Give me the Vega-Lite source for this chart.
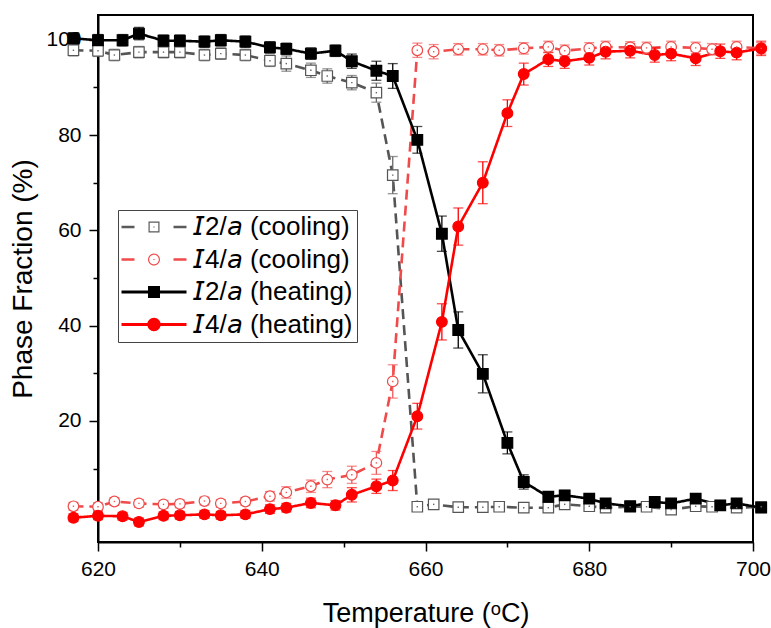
{
  "$schema": "https://vega.github.io/schema/vega-lite/v6.json",
  "width": 655,
  "height": 527,
  "autosize": {"type": "none"},
  "padding": {"left": 98, "top": 15, "right": 18, "bottom": 86},
  "background": "white",
  "config": {
    "view": {"stroke": "black", "strokeWidth": 2},
    "font": "Liberation Sans",
    "axis": {
      "grid": false,
      "labelFlush": false,
      "domainColor": "black",
      "domainWidth": 2,
      "tickColor": "black",
      "tickWidth": 1.5,
      "labelColor": "black",
      "labelFont": "Liberation Sans",
      "labelFontSize": 21,
      "titleColor": "black",
      "titleFont": "Liberation Sans",
      "titleFontSize": 27,
      "titleFontWeight": "normal"
    },
    "legend": {
      "disable": true,
      "labelFont": "Liberation Sans",
      "labelFontSize": 26,
      "labelColor": "black"
    }
  },
  "datasets": {
    "series": [
      {"series": "I2/a (cooling)"},
      {"series": "I4/a (cooling)"},
      {"series": "I2/a (heating)"},
      {"series": "I4/a (heating)"}
    ]
  },
  "data": {
    "values": [
      {"T": 617, "v": 97.8, "e": 1.2, "s": "I2/a (cooling)"},
      {"T": 620, "v": 97.7, "e": 1.2, "s": "I2/a (cooling)"},
      {"T": 622, "v": 96.8, "e": 1.2, "s": "I2/a (cooling)"},
      {"T": 625, "v": 97.4, "e": 1.2, "s": "I2/a (cooling)"},
      {"T": 628, "v": 97.4, "e": 1.2, "s": "I2/a (cooling)"},
      {"T": 630, "v": 97.4, "e": 1.2, "s": "I2/a (cooling)"},
      {"T": 633, "v": 96.8, "e": 1.2, "s": "I2/a (cooling)"},
      {"T": 635, "v": 97.1, "e": 1.2, "s": "I2/a (cooling)"},
      {"T": 638, "v": 96.8, "e": 1.2, "s": "I2/a (cooling)"},
      {"T": 641, "v": 95.6, "e": 1.2, "s": "I2/a (cooling)"},
      {"T": 643, "v": 95.0, "e": 1.6, "s": "I2/a (cooling)"},
      {"T": 646, "v": 93.6, "e": 1.5, "s": "I2/a (cooling)"},
      {"T": 648, "v": 92.4, "e": 1.5, "s": "I2/a (cooling)"},
      {"T": 651, "v": 91.0, "e": 1.5, "s": "I2/a (cooling)"},
      {"T": 654, "v": 88.9, "e": 2.0, "s": "I2/a (cooling)"},
      {"T": 656, "v": 71.6, "e": 3.9, "s": "I2/a (cooling)"},
      {"T": 659, "v": 2.0, "e": 0.7, "s": "I2/a (cooling)"},
      {"T": 661, "v": 2.5, "e": 0.7, "s": "I2/a (cooling)"},
      {"T": 664, "v": 1.9, "e": 0.7, "s": "I2/a (cooling)"},
      {"T": 667, "v": 1.9, "e": 0.7, "s": "I2/a (cooling)"},
      {"T": 669, "v": 2.0, "e": 0.7, "s": "I2/a (cooling)"},
      {"T": 672, "v": 1.8, "e": 0.7, "s": "I2/a (cooling)"},
      {"T": 675, "v": 1.8, "e": 0.7, "s": "I2/a (cooling)"},
      {"T": 677, "v": 2.5, "e": 0.7, "s": "I2/a (cooling)"},
      {"T": 680, "v": 2.1, "e": 0.7, "s": "I2/a (cooling)"},
      {"T": 682, "v": 1.8, "e": 0.7, "s": "I2/a (cooling)"},
      {"T": 685, "v": 2.0, "e": 0.7, "s": "I2/a (cooling)"},
      {"T": 687, "v": 2.0, "e": 0.7, "s": "I2/a (cooling)"},
      {"T": 690, "v": 1.4, "e": 0.7, "s": "I2/a (cooling)"},
      {"T": 693, "v": 2.1, "e": 0.7, "s": "I2/a (cooling)"},
      {"T": 695, "v": 2.0, "e": 0.7, "s": "I2/a (cooling)"},
      {"T": 698, "v": 1.8, "e": 0.7, "s": "I2/a (cooling)"},
      {"T": 701, "v": 2.0, "e": 0.7, "s": "I2/a (cooling)"},

      {"T": 617, "v": 2.1, "e": 0.8, "s": "I4/a (cooling)"},
      {"T": 620, "v": 2.0, "e": 0.8, "s": "I4/a (cooling)"},
      {"T": 622, "v": 3.1, "e": 0.8, "s": "I4/a (cooling)"},
      {"T": 625, "v": 2.7, "e": 0.8, "s": "I4/a (cooling)"},
      {"T": 628, "v": 2.5, "e": 0.8, "s": "I4/a (cooling)"},
      {"T": 630, "v": 2.6, "e": 0.8, "s": "I4/a (cooling)"},
      {"T": 633, "v": 3.2, "e": 0.8, "s": "I4/a (cooling)"},
      {"T": 635, "v": 2.7, "e": 0.8, "s": "I4/a (cooling)"},
      {"T": 638, "v": 3.1, "e": 0.8, "s": "I4/a (cooling)"},
      {"T": 641, "v": 4.2, "e": 1.0, "s": "I4/a (cooling)"},
      {"T": 643, "v": 5.0, "e": 1.2, "s": "I4/a (cooling)"},
      {"T": 646, "v": 6.3, "e": 1.3, "s": "I4/a (cooling)"},
      {"T": 648, "v": 7.7, "e": 1.7, "s": "I4/a (cooling)"},
      {"T": 651, "v": 8.7, "e": 1.8, "s": "I4/a (cooling)"},
      {"T": 654, "v": 11.2, "e": 2.4, "s": "I4/a (cooling)"},
      {"T": 656, "v": 28.3, "e": 3.5, "s": "I4/a (cooling)"},
      {"T": 659, "v": 97.8, "e": 1.5, "s": "I4/a (cooling)"},
      {"T": 661, "v": 97.5, "e": 1.5, "s": "I4/a (cooling)"},
      {"T": 664, "v": 98.0, "e": 1.2, "s": "I4/a (cooling)"},
      {"T": 667, "v": 98.0, "e": 1.2, "s": "I4/a (cooling)"},
      {"T": 669, "v": 97.8, "e": 1.2, "s": "I4/a (cooling)"},
      {"T": 672, "v": 98.2, "e": 1.2, "s": "I4/a (cooling)"},
      {"T": 675, "v": 98.5, "e": 1.2, "s": "I4/a (cooling)"},
      {"T": 677, "v": 97.7, "e": 1.2, "s": "I4/a (cooling)"},
      {"T": 680, "v": 98.2, "e": 1.2, "s": "I4/a (cooling)"},
      {"T": 682, "v": 98.5, "e": 1.2, "s": "I4/a (cooling)"},
      {"T": 685, "v": 98.4, "e": 1.2, "s": "I4/a (cooling)"},
      {"T": 687, "v": 98.3, "e": 1.2, "s": "I4/a (cooling)"},
      {"T": 690, "v": 98.5, "e": 1.2, "s": "I4/a (cooling)"},
      {"T": 693, "v": 98.3, "e": 1.2, "s": "I4/a (cooling)"},
      {"T": 695, "v": 98.0, "e": 1.2, "s": "I4/a (cooling)"},
      {"T": 698, "v": 98.5, "e": 1.2, "s": "I4/a (cooling)"},
      {"T": 701, "v": 98.2, "e": 1.2, "s": "I4/a (cooling)"},

      {"T": 617, "v": 100.3, "e": 1.2, "s": "I2/a (heating)"},
      {"T": 620, "v": 99.9, "e": 1.2, "s": "I2/a (heating)"},
      {"T": 623, "v": 99.9, "e": 1.2, "s": "I2/a (heating)"},
      {"T": 625, "v": 101.3, "e": 1.3, "s": "I2/a (heating)"},
      {"T": 628, "v": 99.8, "e": 1.2, "s": "I2/a (heating)"},
      {"T": 630, "v": 99.8, "e": 1.2, "s": "I2/a (heating)"},
      {"T": 633, "v": 99.6, "e": 1.2, "s": "I2/a (heating)"},
      {"T": 635, "v": 99.9, "e": 1.2, "s": "I2/a (heating)"},
      {"T": 638, "v": 99.6, "e": 1.2, "s": "I2/a (heating)"},
      {"T": 641, "v": 98.4, "e": 1.2, "s": "I2/a (heating)"},
      {"T": 643, "v": 98.1, "e": 1.2, "s": "I2/a (heating)"},
      {"T": 646, "v": 97.1, "e": 1.2, "s": "I2/a (heating)"},
      {"T": 649, "v": 97.7, "e": 1.2, "s": "I2/a (heating)"},
      {"T": 651, "v": 95.5, "e": 1.5, "s": "I2/a (heating)"},
      {"T": 654, "v": 93.5, "e": 2.0, "s": "I2/a (heating)"},
      {"T": 656, "v": 92.4, "e": 2.6, "s": "I2/a (heating)"},
      {"T": 659, "v": 79.0, "e": 2.8, "s": "I2/a (heating)"},
      {"T": 662, "v": 59.3, "e": 3.7, "s": "I2/a (heating)"},
      {"T": 664, "v": 39.1, "e": 3.8, "s": "I2/a (heating)"},
      {"T": 667, "v": 29.9, "e": 4.0, "s": "I2/a (heating)"},
      {"T": 670, "v": 15.4, "e": 2.3, "s": "I2/a (heating)"},
      {"T": 672, "v": 7.2, "e": 1.5, "s": "I2/a (heating)"},
      {"T": 675, "v": 4.1, "e": 1.0, "s": "I2/a (heating)"},
      {"T": 677, "v": 4.4, "e": 1.0, "s": "I2/a (heating)"},
      {"T": 680, "v": 3.7, "e": 1.0, "s": "I2/a (heating)"},
      {"T": 682, "v": 2.7, "e": 1.0, "s": "I2/a (heating)"},
      {"T": 685, "v": 2.1, "e": 1.0, "s": "I2/a (heating)"},
      {"T": 688, "v": 3.0, "e": 1.0, "s": "I2/a (heating)"},
      {"T": 690, "v": 2.7, "e": 1.0, "s": "I2/a (heating)"},
      {"T": 693, "v": 3.7, "e": 1.0, "s": "I2/a (heating)"},
      {"T": 696, "v": 2.3, "e": 1.0, "s": "I2/a (heating)"},
      {"T": 698, "v": 2.7, "e": 1.0, "s": "I2/a (heating)"},
      {"T": 701, "v": 1.8, "e": 1.0, "s": "I2/a (heating)"},

      {"T": 617, "v": -0.3, "e": 0.8, "s": "I4/a (heating)"},
      {"T": 620, "v": 0.1, "e": 0.8, "s": "I4/a (heating)"},
      {"T": 623, "v": 0.0, "e": 0.8, "s": "I4/a (heating)"},
      {"T": 625, "v": -1.2, "e": 0.8, "s": "I4/a (heating)"},
      {"T": 628, "v": 0.1, "e": 0.8, "s": "I4/a (heating)"},
      {"T": 630, "v": 0.2, "e": 0.8, "s": "I4/a (heating)"},
      {"T": 633, "v": 0.4, "e": 0.8, "s": "I4/a (heating)"},
      {"T": 635, "v": 0.2, "e": 0.8, "s": "I4/a (heating)"},
      {"T": 638, "v": 0.4, "e": 0.8, "s": "I4/a (heating)"},
      {"T": 641, "v": 1.5, "e": 0.9, "s": "I4/a (heating)"},
      {"T": 643, "v": 1.8, "e": 0.9, "s": "I4/a (heating)"},
      {"T": 646, "v": 2.8, "e": 1.0, "s": "I4/a (heating)"},
      {"T": 649, "v": 2.3, "e": 1.0, "s": "I4/a (heating)"},
      {"T": 651, "v": 4.5, "e": 1.5, "s": "I4/a (heating)"},
      {"T": 654, "v": 6.3, "e": 1.5, "s": "I4/a (heating)"},
      {"T": 656, "v": 7.5, "e": 2.1, "s": "I4/a (heating)"},
      {"T": 659, "v": 21.0, "e": 2.7, "s": "I4/a (heating)"},
      {"T": 662, "v": 40.8, "e": 3.8, "s": "I4/a (heating)"},
      {"T": 664, "v": 60.8, "e": 3.9, "s": "I4/a (heating)"},
      {"T": 667, "v": 70.0, "e": 4.4, "s": "I4/a (heating)"},
      {"T": 670, "v": 84.6, "e": 2.8, "s": "I4/a (heating)"},
      {"T": 672, "v": 92.8, "e": 2.3, "s": "I4/a (heating)"},
      {"T": 675, "v": 95.9, "e": 1.5, "s": "I4/a (heating)"},
      {"T": 677, "v": 95.5, "e": 1.5, "s": "I4/a (heating)"},
      {"T": 680, "v": 96.2, "e": 1.5, "s": "I4/a (heating)"},
      {"T": 682, "v": 97.5, "e": 1.5, "s": "I4/a (heating)"},
      {"T": 685, "v": 97.7, "e": 1.5, "s": "I4/a (heating)"},
      {"T": 688, "v": 96.8, "e": 1.5, "s": "I4/a (heating)"},
      {"T": 690, "v": 97.1, "e": 1.5, "s": "I4/a (heating)"},
      {"T": 693, "v": 96.1, "e": 1.5, "s": "I4/a (heating)"},
      {"T": 696, "v": 97.6, "e": 1.5, "s": "I4/a (heating)"},
      {"T": 698, "v": 97.3, "e": 1.5, "s": "I4/a (heating)"},
      {"T": 701, "v": 98.2, "e": 1.5, "s": "I4/a (heating)"}
    ]
  },
  "resolve": {
    "axis": {"x": "independent", "y": "independent"},
    "scale": {"shape": "independent", "fill": "independent"}
  },
  "layer": [
    {
      "mark": {"type": "line", "strokeWidth": 2.6},
      "encoding": {
        "x": {
          "field": "T", "type": "quantitative",
          "scale": {"domain": [620, 700], "nice": false, "zero": false},
          "axis": {
            "orient": "bottom",
            "values": [620, 640, 660, 680, 700],
            "tickSize": 9, "labelPadding": 7,
            "title": "Temperature (ᵒC)", "titlePadding": 21
          }
        },
        "y": {
          "field": "v", "type": "quantitative",
          "scale": {"domain": [-5.4, 105.2], "nice": false, "zero": false},
          "axis": {
            "orient": "left",
            "values": [20, 40, 60, 80, 100],
            "tickSize": 9, "labelPadding": 8,
            "title": "Phase Fraction (%)", "titlePadding": 8, "titleFontSize": 28
          }
        },
        "detail": {"field": "s"},
        "stroke": {
          "field": "s", "type": "nominal",
          "scale": {
            "domain": ["I2/a (cooling)", "I4/a (cooling)", "I2/a (heating)", "I4/a (heating)"],
            "range": ["#555555", "#f04a4a", "#000000", "#ff0000"]
          }
        },
        "strokeDash": {
          "field": "s", "type": "nominal",
          "scale": {
            "domain": ["I2/a (cooling)", "I4/a (cooling)", "I2/a (heating)", "I4/a (heating)"],
            "range": [[10, 6], [10, 6], [1, 0], [1, 0]]
          }
        }
      }
    },
    {
      "mark": {"type": "errorbar", "thickness": 1.3, "ticks": {"size": 10, "thickness": 1.3}},
      "encoding": {
        "x": {"field": "T", "type": "quantitative", "axis": null},
        "y": {"field": "v", "type": "quantitative", "axis": null},
        "yError": {"field": "e"},
        "color": {
          "field": "s", "type": "nominal",
          "scale": {
            "domain": ["I2/a (cooling)", "I4/a (cooling)", "I2/a (heating)", "I4/a (heating)"],
            "range": ["#666666", "#f25a5a", "#000000", "#ff0000"]
          }
        }
      }
    },
    {
      "mark": {"type": "point", "strokeWidth": 1.2, "opacity": 1},
      "encoding": {
        "x": {
          "field": "T", "type": "quantitative",
          "axis": {
            "orient": "bottom",
            "values": [630, 650, 670, 690],
            "tickSize": 5, "labels": false, "domain": false, "title": null
          }
        },
        "y": {
          "field": "v", "type": "quantitative",
          "axis": {
            "orient": "left",
            "values": [0, 10, 30, 50, 70, 90],
            "tickSize": 5, "labels": false, "domain": false, "title": null
          }
        },
        "stroke": {"field": "s", "type": "nominal"},
        "fill": {
          "field": "s", "type": "nominal",
          "scale": {
            "domain": ["I2/a (cooling)", "I4/a (cooling)", "I2/a (heating)", "I4/a (heating)"],
            "range": ["#ffffff", "#ffffff", "#000000", "#ff0000"]
          }
        },
        "shape": {
          "field": "s", "type": "nominal",
          "scale": {
            "domain": ["I2/a (cooling)", "I4/a (cooling)", "I2/a (heating)", "I4/a (heating)"],
            "range": ["square", "circle", "square", "circle"]
          }
        },
        "size": {
          "field": "s", "type": "nominal",
          "scale": {
            "domain": ["I2/a (cooling)", "I4/a (cooling)", "I2/a (heating)", "I4/a (heating)"],
            "range": [110, 115, 150, 140]
          }
        }
      }
    },
    {
      "transform": [{"filter": "indexof(datum.s, 'cooling') >= 0"}],
      "mark": {"type": "square", "size": 2, "opacity": 1},
      "encoding": {
        "x": {"field": "T", "type": "quantitative", "axis": null},
        "y": {"field": "v", "type": "quantitative", "axis": null},
        "color": {"field": "s", "type": "nominal"}
      }
    },
    {
      "data": {"name": "series"},
      "transform": [{"filter": "false"}],
      "mark": {"type": "point", "filled": true, "opacity": 1},
      "encoding": {
        "x": {"value": 0},
        "y": {"value": 0},
        "shape": {
          "field": "series", "type": "nominal",
          "scale": {
            "domain": ["I2/a (cooling)", "I4/a (cooling)", "I2/a (heating)", "I4/a (heating)"],
            "range": [
              "M-6.5,-0.27H-3.9V0.27H-6.5Z M3.9,-0.27H6.5V0.27H3.9Z M-1.1,-1.1H1.1V1.1H-1.1Z M-0.86,-0.86V0.86H0.86V-0.86Z M-0.12,-0.12H0.12V0.12H-0.12Z",
              "M-6.5,-0.27H-3.9V0.27H-6.5Z M3.9,-0.27H6.5V0.27H3.9Z M1.2,0A1.2,1.2 0 1,1 -1.2,0A1.2,1.2 0 1,1 1.2,0Z M0.96,0A0.96,0.96 0 1,0 -0.96,0A0.96,0.96 0 1,0 0.96,0Z M-0.12,-0.12H0.12V0.12H-0.12Z",
              "M-6.5,-0.28H6.5V0.28H-6.5Z M-1.2,-1.2H1.2V1.2H-1.2Z",
              "M-6.5,-0.28H6.5V0.28H-6.5Z M1.34,0A1.34,1.34 0 1,1 -1.34,0A1.34,1.34 0 1,1 1.34,0Z"
            ]
          },
          "legend": {
            "orient": "none", "legendX": 20, "legendY": 195, "title": null,
            "padding": 4, "rowPadding": 6.5,
            "symbolSize": 100, "symbolOffset": 19, "labelOffset": 26,
            "symbolStrokeWidth": 0, "symbolOpacity": 1,
            "strokeColor": "#444444",
            "labelExpr": "replace(replace(datum.label, 'I', '𝘐'), '/a', '/𝘢')"
          }
        },
        "fill": {
          "field": "series", "type": "nominal",
          "scale": {
            "domain": ["I2/a (cooling)", "I4/a (cooling)", "I2/a (heating)", "I4/a (heating)"],
            "range": ["#5a5a5a", "#f04a4a", "#000000", "#ff0000"]
          },
          "legend": {
            "orient": "none", "legendX": 20, "legendY": 195, "title": null,
            "padding": 4, "rowPadding": 6.5,
            "symbolSize": 100, "symbolOffset": 19, "labelOffset": 26,
            "symbolStrokeWidth": 0, "symbolOpacity": 1,
            "strokeColor": "#444444",
            "labelExpr": "replace(replace(datum.label, 'I', '𝘐'), '/a', '/𝘢')"
          }
        }
      }
    }
  ]
}
